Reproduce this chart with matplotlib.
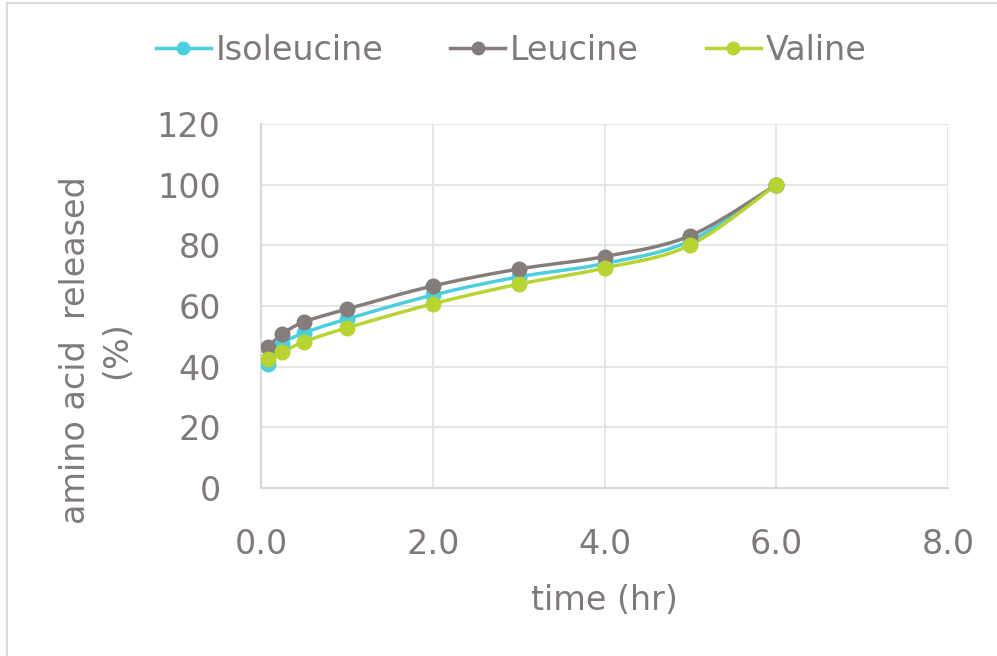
import numpy as np
import matplotlib
matplotlib.use("Agg")
import matplotlib.pyplot as plt
from matplotlib.lines import Line2D

time_hr = [0.083, 0.25, 0.5, 1.0, 2.0, 3.0, 4.0, 5.0, 6.0]
isoleucine = [40.9, 47.5, 51.1, 55.7, 63.6, 69.6, 74.0, 81.5, 100.0]
leucine = [46.5, 50.8, 54.7, 59.0, 66.6, 72.2, 76.3, 83.2, 100.0]
valine = [42.5, 44.8, 48.2, 52.8, 60.7, 67.2, 72.5, 80.1, 100.0]
series_names = ["Isoleucine", "Leucine", "Valine"]
colors = ["#4bcfe0", "#857d7a", "#b8d433"]
xticks = [0, 2, 4, 6, 8]
yticks = [0, 20, 40, 60, 80, 100, 120]

TEXT = "#7f7a77"
GRID = "#e3e3e3"
FONT = "DejaVu Sans"
FS = 24


def smooth(x, y, n=30):
    # Catmull-Rom (Excel-like smoothed line) drawn through the data points
    x = np.asarray(x, float); y = np.asarray(y, float)
    P = np.column_stack([x, y])
    P = np.vstack([P[0], P, P[-1]])
    out = []
    for i in range(1, len(P) - 2):
        p0, p1, p2, p3 = P[i - 1], P[i], P[i + 1], P[i + 2]
        t = np.linspace(0, 1, n)[:, None]
        c1 = p1 + (p2 - p0) / 6
        c2 = p2 - (p3 - p1) / 6
        b = ((1 - t) ** 3) * p1 + 3 * ((1 - t) ** 2) * t * c1 + 3 * (1 - t) * t ** 2 * c2 + t ** 3 * p2
        out.append(b if i == 1 else b[1:])
    out = np.vstack(out)
    return out[:, 0], out[:, 1]


fig = plt.figure(figsize=(9.97, 6.56), dpi=100)
ax = fig.add_axes([261 / 997, 1 - 488 / 656, (948 - 261) / 997, (488 - 124) / 656])

handles = []
for name, vals, c in zip(series_names, [isoleucine, leucine, valine], colors):
    sx, sy = smooth(time_hr, vals)
    ax.plot(sx, sy, color=c, lw=2.5, zorder=3, solid_capstyle="round")
    ax.plot(time_hr, vals, "o", color=c, ms=10.5, zorder=4, mec=c)
    handles.append(Line2D([0], [0], color=c, lw=2.5, marker="o", ms=9, mec=c))

ax.set_xlim(0, 8)
ax.set_ylim(0, 120)
ax.set_xticks(xticks)
ax.set_yticks(yticks)
ax.set_xticklabels([f"{v:.1f}" for v in xticks])
ax.set_yticklabels([str(v) for v in yticks])
ax.grid(True, color=GRID, lw=1.3)
ax.set_axisbelow(True)
for s in ax.spines.values():
    s.set_visible(False)
for side in ("left", "bottom"):
    ax.spines[side].set_visible(True)
    ax.spines[side].set_color("#d9d9d9")
    ax.spines[side].set_linewidth(1.5)
ax.tick_params(length=0, labelsize=FS, labelcolor=TEXT)
ax.tick_params(axis="x", pad=29)
ax.tick_params(axis="y", pad=29)
for lab in ax.get_xticklabels() + ax.get_yticklabels():
    lab.set_family(FONT)

fig.text(604 / 997, 1 - 601 / 656, "time (hr)", ha="center", va="center",
         fontsize=FS, color=TEXT, family=FONT)
fig.text(96 / 997, 1 - 350 / 656, "amino acid  released\n(%)", ha="center", va="center",
         rotation=90, fontsize=FS, color=TEXT, family=FONT, linespacing=1.3,
         multialignment="center")

leg = fig.legend(handles, series_names, loc="center", bbox_to_anchor=(511 / 997, 1 - 50 / 656),
                 ncol=3, frameon=False, handlelength=1.65, handletextpad=0.15, columnspacing=2.0,
                 prop={"family": FONT, "size": FS})
for t in leg.get_texts():
    t.set_color(TEXT)

fig.add_artist(Line2D([6.5 / 997, 1.0], [1 - 2.5 / 656, 1 - 2.5 / 656], transform=fig.transFigure,
                      color="#d9d9d9", lw=1.5))
fig.add_artist(Line2D([6.5 / 997, 6.5 / 997], [0, 1 - 2.5 / 656], transform=fig.transFigure,
                      color="#d9d9d9", lw=1.5))

fig.savefig("out.png", dpi=100, facecolor="white")
